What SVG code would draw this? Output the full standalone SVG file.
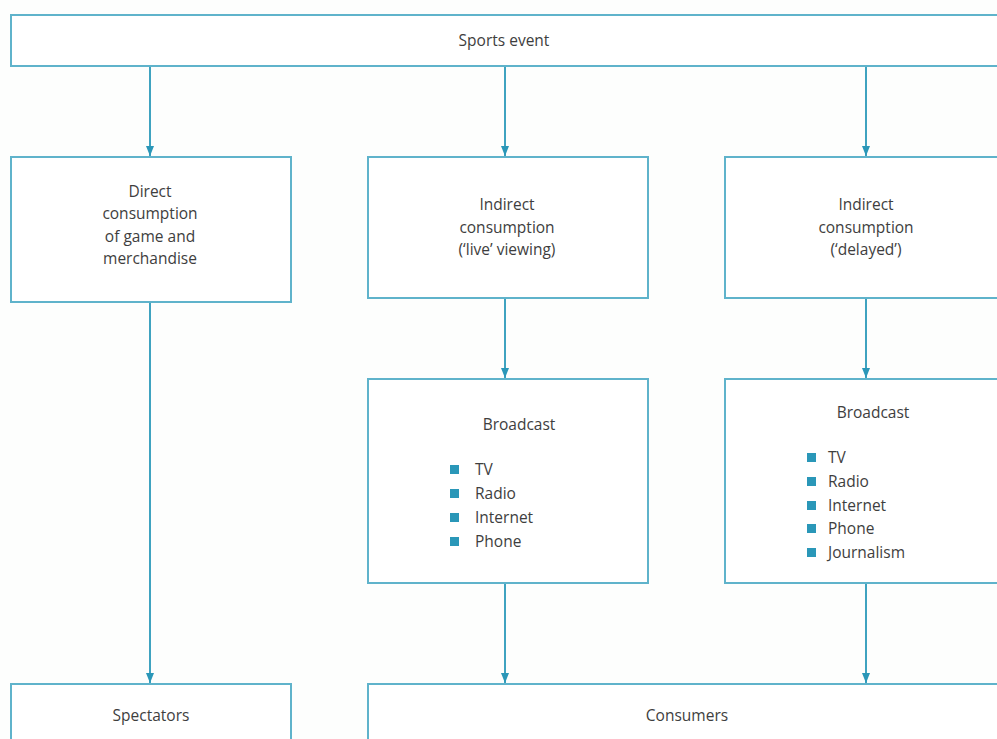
<svg xmlns="http://www.w3.org/2000/svg" width="997" height="739" viewBox="0 0 997 739">
<defs>
<style>
.box{fill:#fff;stroke:#5fb3cb;stroke-width:2}
.t{font-family:"Open Sans","Noto Sans",sans-serif;font-size:15.5px;font-weight:500;fill:#3e3e3e;text-anchor:middle}
.l{font-family:"Open Sans","Noto Sans",sans-serif;font-size:15.5px;font-weight:500;fill:#3e3e3e}
.c{stroke:#3fa3c0;stroke-width:2;fill:none}
.b{fill:#2a97b8}
</style>
<marker id="ah" viewBox="0 0 10 8" refX="10" refY="4" markerWidth="10" markerHeight="8" markerUnits="userSpaceOnUse" orient="auto">
<path d="M0,0 L10,4 L0,8 Z" fill="#2a97b8"/>
</marker>
</defs>
<rect width="997" height="739" fill="#fdfefd"/>
<g id="connectors">
<line class="c" x1="150" y1="66" x2="150" y2="156" marker-end="url(#ah)"/>
<line class="c" x1="505" y1="66" x2="505" y2="156" marker-end="url(#ah)"/>
<line class="c" x1="866" y1="66" x2="866" y2="156" marker-end="url(#ah)"/>
<line class="c" x1="150" y1="302" x2="150" y2="683" marker-end="url(#ah)"/>
<line class="c" x1="505" y1="298" x2="505" y2="378" marker-end="url(#ah)"/>
<line class="c" x1="866" y1="298" x2="866" y2="378" marker-end="url(#ah)"/>
<line class="c" x1="505" y1="583" x2="505" y2="683" marker-end="url(#ah)"/>
<line class="c" x1="866" y1="583" x2="866" y2="683" marker-end="url(#ah)"/>
</g>
<g id="sports-event">
<rect class="box" x="11" y="15" width="1000" height="51"/>
<text class="t" x="504" y="46">Sports event</text>
</g>
<g id="direct">
<rect class="box" x="11" y="157" width="280" height="145"/>
<text class="t" x="150" y="197">Direct</text>
<text class="t" x="150" y="219">consumption</text>
<text class="t" x="150" y="242">of game and</text>
<text class="t" x="150" y="264">merchandise</text>
</g>
<g id="indirect-live">
<rect class="box" x="368" y="157" width="280" height="141"/>
<text class="t" x="507" y="210">Indirect</text>
<text class="t" x="507" y="233">consumption</text>
<text class="t" x="507" y="255">(‘live’ viewing)</text>
</g>
<g id="indirect-delayed">
<rect class="box" x="725" y="157" width="290" height="141"/>
<text class="t" x="866" y="210">Indirect</text>
<text class="t" x="866" y="233">consumption</text>
<text class="t" x="866" y="255">(‘delayed’)</text>
</g>
<g id="broadcast-live">
<rect class="box" x="368" y="379" width="280" height="204"/>
<text class="t" x="519" y="430">Broadcast</text>
<rect class="b" x="450" y="465" width="9" height="9"/>
<rect class="b" x="450" y="489" width="9" height="9"/>
<rect class="b" x="450" y="513" width="9" height="9"/>
<rect class="b" x="450" y="537" width="9" height="9"/>
<text class="l" x="475" y="475">TV</text>
<text class="l" x="475" y="499">Radio</text>
<text class="l" x="475" y="523">Internet</text>
<text class="l" x="475" y="547">Phone</text>
</g>
<g id="broadcast-delayed">
<rect class="box" x="725" y="379" width="290" height="204"/>
<text class="t" x="873" y="418">Broadcast</text>
<rect class="b" x="807" y="453" width="9" height="9"/>
<rect class="b" x="807" y="477" width="9" height="9"/>
<rect class="b" x="807" y="501" width="9" height="9"/>
<rect class="b" x="807" y="524" width="9" height="9"/>
<rect class="b" x="807" y="548" width="9" height="9"/>
<text class="l" x="828" y="463">TV</text>
<text class="l" x="828" y="487">Radio</text>
<text class="l" x="828" y="511">Internet</text>
<text class="l" x="828" y="534">Phone</text>
<text class="l" x="828" y="558">Journalism</text>
</g>
<g id="spectators">
<rect class="box" x="11" y="684" width="280" height="80"/>
<text class="t" x="151" y="721">Spectators</text>
</g>
<g id="consumers">
<rect class="box" x="368" y="684" width="650" height="80"/>
<text class="t" x="687" y="721">Consumers</text>
</g>
</svg>
